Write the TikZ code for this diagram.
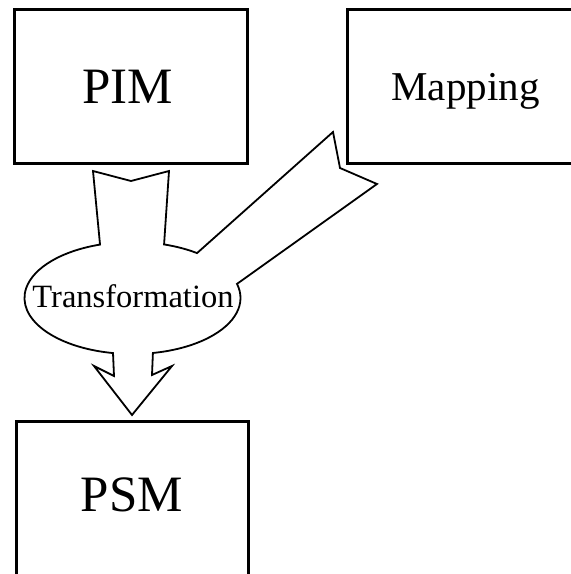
\documentclass[tikz,border=0pt]{standalone}
\usepackage{fontspec}
\setmainfont{Liberation Serif}
\usetikzlibrary{calc}
\tikzset{
  modelbox/.style={draw=black, line width=3pt, fill=white},
  flowshape/.style={draw=black, line width=1.8pt, fill=white, line join=miter},
  boxlabel/.style={anchor=base, inner sep=0pt}
}
\begin{document}
\begin{tikzpicture}[x=1pt, y=1pt]
  \useasboundingbox (0,0) rectangle (571,574);
  \clip (0,0) rectangle (571,574);

  % model boxes
  \draw[modelbox] (14,564) rectangle (247,410);
  \draw[modelbox] (347,564) rectangle (590,410);
  \draw[modelbox] (16,152) rectangle (248,-10);

  % transformation bubble with its three arrows, as one outline
  \coordinate (C) at (132.5,276);
  \draw[flowshape]
    ($(C)+(107.5:108 and 56)$) -- (93,403) -- (131,393) -- (169,403)
    -- ($(C)+(73:108 and 56)$)
    arc[start angle=73, end angle=53.3, x radius=108pt, y radius=56pt]
    -- (333,442) -- (340,406) -- (377,390)
    -- ($(C)+(14.6:108 and 56)$)
    arc[start angle=14.6, end angle=-79.1, x radius=108pt, y radius=56pt]
    -- (152,199) -- (172,208) -- (132,159) -- (94,208) -- (114,198)
    -- ($(C)+(-100.4:108 and 56)$)
    arc[start angle=-100.4, end angle=-252.5, x radius=108pt, y radius=56pt]
    -- cycle;

  % labels
  \node[boxlabel, font=\fontsize{51}{51}\selectfont] (pim) at (127.5,470) {PIM};
  \node[boxlabel, font=\fontsize{41}{41}\selectfont] (mapping) at (465.5,473) {Mapping};
  \node[boxlabel, font=\fontsize{32.5}{32.5}\selectfont] (transformation) at (133,266) {Transformation};
  \node[boxlabel, font=\fontsize{51}{51}\selectfont] (psm) at (132,62) {PSM};
\end{tikzpicture}
\end{document}
